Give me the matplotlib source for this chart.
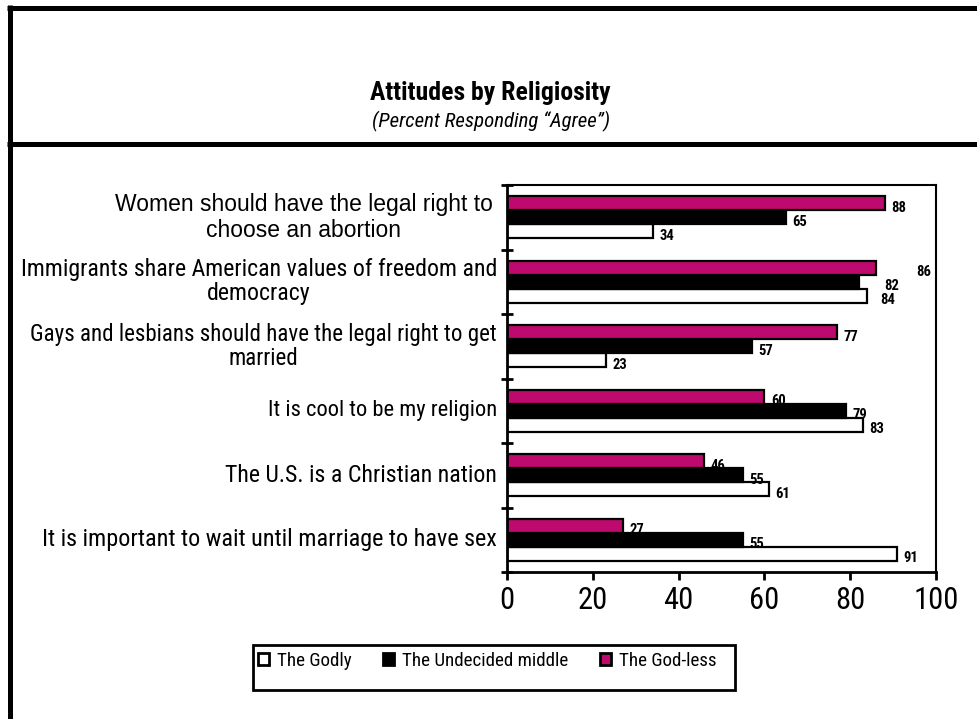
import matplotlib
matplotlib.use("Agg")
import matplotlib.pyplot as plt
from matplotlib.lines import Line2D
from matplotlib.patches import Rectangle
import numpy as np

categories = [
    "Women should have the legal right to\nchoose an abortion",
    "Immigrants share American values of freedom and\ndemocracy",
    "Gays and lesbians should have the legal right to get\nmarried",
    "It is cool to be my religion",
    "The U.S. is a Christian nation",
    "It is important to wait until marriage to have sex",
]
series_names = ["The Godly", "The Undecided middle", "The God-less"]
godly = [34, 84, 23, 83, 61, 91]
undecided = [65, 82, 57, 79, 55, 55]
godless = [88, 86, 77, 60, 46, 27]
x_ticks = [0, 20, 40, 60, 80, 100]

narrow = "Roboto Condensed"
regular = "Liberation Sans"

fig = plt.figure(figsize=(9.78, 7.19), dpi=100)
W, H = 978, 719

def fx(px):
    return px / W

def fy(py):
    return 1 - py / H

# frame lines
lw_frame = 5 * 72 / 100
fig.add_artist(Line2D([fx(7), 1.0], [fy(7.5), fy(7.5)], color="black", lw=lw_frame, solid_capstyle="butt"))
fig.add_artist(Line2D([fx(9.5), fx(9.5)], [fy(5), 0.0], color="black", lw=lw_frame, solid_capstyle="butt"))
fig.add_artist(Line2D([fx(7), 1.0], [fy(143.5), fy(143.5)], color="black", lw=lw_frame, solid_capstyle="butt"))

fig.text(fx(490), fy(93), "Attitudes by Religiosity", ha="center", va="center",
         fontsize=18.5, fontweight="bold", family=narrow)
fig.text(fx(491), fy(121), "(Percent Responding \u201cAgree\u201d)", ha="center", va="center",
         fontsize=15, fontstyle="italic", family=narrow)

ax = fig.add_axes([fx(507), fy(572), fx(936) - fx(507), fy(185) - fy(572)])
n = len(categories)
y = np.arange(n)
h = 0.215
colors = ["white", "black", "#BE0A6E"]
offsets = [h, 0, -h]
data = [godly, undecided, godless]
# extra horizontal nudges of value labels (as in the original), per series
label_dx = [[0, 1.5, 0, 0, 0, 0], [0, 4.5, 0, 0, 0, 0], [0, 8, 0, 0, 0, 0]]
for vals, off, col, nm, dxs in zip(data, offsets, colors, series_names, label_dx):
    ax.barh(y + off, vals, height=h, color=col, edgecolor="black", linewidth=1.6, label=nm)
    for yi, v, dx in zip(y, vals, dxs):
        ax.text(v + 1.5 + dx, yi + off + 0.07, str(v), ha="left", va="center", fontsize=10.5,
                fontweight="bold", family=narrow)

ax.set_xlim(0, 100)
ax.set_ylim(n - 0.5, -0.5)
ax.set_xticks(x_ticks)
ax.set_xticklabels([str(t) for t in x_ticks], family=narrow, fontsize=22)
ax.set_yticks(np.arange(n + 1) - 0.5)
ax.set_yticklabels([])
ax.tick_params(axis="y", direction="inout", length=8, width=2)
ax.tick_params(axis="x", direction="out", length=6, width=2, pad=4)
for s in ["left", "bottom"]:
    ax.spines[s].set_linewidth(2)
for s in ["top", "right"]:
    ax.spines[s].set_linewidth(1.5)

cat_sizes = [16.5, 17.2, 16.6, 16.2, 17.2, 17.4]
cat_fams = [regular, narrow, narrow, narrow, narrow, narrow]
cat_ls = [1.15, 1.05, 1.05, 1.05, 1.05, 1.05]
cat_dx = [-3.4, -2.3, -2.3, -2.3, -2.3, -2.3]
for yi, c, s, f, ls, dx in zip(y, categories, cat_sizes, cat_fams, cat_ls, cat_dx):
    ax.text(dx, yi, c, ha="right", va="center", fontsize=s, family=f, multialignment="center",
            transform=ax.transData, linespacing=ls, clip_on=False)

# legend
leg_box = Rectangle((fx(253), fy(690)), fx(735) - fx(253), fy(645) - fy(690), transform=fig.transFigure,
                    fill=False, edgecolor="black", lw=2)
fig.add_artist(leg_box)
handles = [Rectangle((0, 0), 1, 1, facecolor=c, edgecolor="black", lw=2) for c in colors]
leg = fig.legend(handles, series_names, loc="upper left", bbox_to_anchor=(fx(254), fy(648)),
                 ncol=3, frameon=False, prop={"family": narrow, "size": 13.7},
                 handlelength=0.6, handleheight=0.6, handletextpad=0.4, columnspacing=1.65,
                 borderaxespad=0, borderpad=0.2)

fig.savefig("out.png", dpi=100)
